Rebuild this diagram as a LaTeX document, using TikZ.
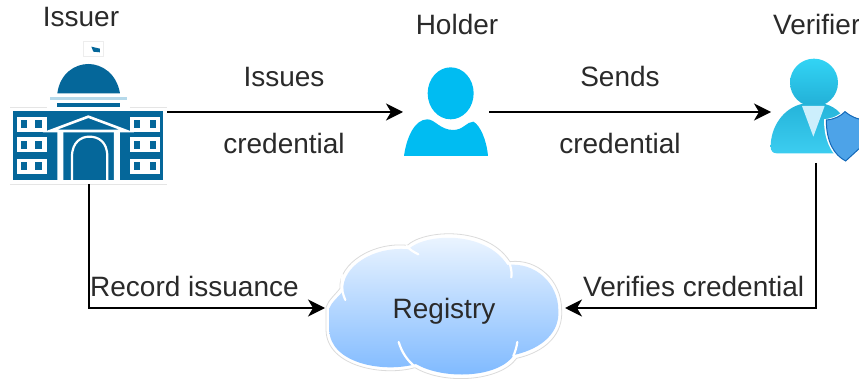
\documentclass[tikz,border=0pt]{standalone}
\usepackage{fontspec}
\setmainfont{Liberation Sans}
\usetikzlibrary{arrows.meta}
\definecolor{bldg}{HTML}{05679A}
\definecolor{bldgl}{HTML}{B5D9EA}
\definecolor{person}{HTML}{00BCF2}
\definecolor{txt}{HTML}{2A2A2A}
\definecolor{shieldf}{HTML}{4DA3E8}
\definecolor{shieldd}{HTML}{1368B8}
\definecolor{cloudt}{HTML}{F0F7FF}
\definecolor{cloudb}{HTML}{7CB8FF}
\definecolor{vlight}{HTML}{32D4F5}
\definecolor{vdark}{HTML}{22AFD6}
\definecolor{vbodyt}{HTML}{25B4DA}
\definecolor{vbodyb}{HTML}{3CCDF0}
\tikzset{
  lbl/.style={inner sep=0pt,anchor=base,text=txt,font=\fontsize{28}{30}\selectfont},
  lbll/.style={lbl,anchor=base west},
  iconbox/.style={inner sep=0pt,outer sep=0pt,minimum width=#1},
  conn/.style={draw=black,line width=1.6pt,-{Stealth[length=17pt,width=17pt,inset=5pt]}},
  winw/.style={fill=white,draw=none},
  winb/.style={fill=bldg,draw=none},
  whl/.style={draw=white,line width=2.2pt,line cap=round},
}
\begin{document}
\begin{tikzpicture}[x=1pt,y=-1pt]
\useasboundingbox (0,0) rectangle (859,379);
\clip (0,0) rectangle (859,379);
% ---- connector anchors as nodes
\node[iconbox=156pt,minimum height=144pt] (issuer) at (89,112) {};
\node[iconbox=86pt,minimum height=90pt] (holder) at (446,112) {};
\node[iconbox=90pt,minimum height=102pt] (verifier) at (816,112) {};
\node[iconbox=240pt,minimum height=140pt] (registry) at (445,308) {};
% ---- issuer icon
\begin{scope}[x=0.3333pt,y=-0.3333pt]
  \fill[white] (30,322) rectangle (500,552);
  \draw[black!10,line width=.5pt] (30,322) -- (140,322) (390,322) -- (500,322) (30,552) -- (500,552);
  \fill[white] (140,320) -- (140,280) .. controls (150,200) and (215,175) .. (265,175) .. controls (320,175) and (380,200) .. (390,280) -- (390,320) -- cycle;
  \fill[white] (250,125) rectangle (310,170);
  \draw[black!7,line width=.5pt] (250,125) rectangle (310,170);
  \fill[bldg] (274,140) -- (300,146) -- (300,157) -- (280,155) -- cycle;
  \fill[bldg] (172,280) .. controls (180,220) and (225,192) .. (265,192) .. controls (305,192) and (350,220) .. (360,280) -- cycle;
  \fill[bldgl] (150,292) rectangle (380,300);
  \fill[bldg] (170,308) rectangle (360,320);
  \fill[bldg] (40,332) rectangle (490,540);
  % left windows
  \foreach \y in {350,412,477}{
    \fill[winw] (52,\y) rectangle +(88,45);
    \fill[winb] (64,\y+10) rectangle +(18,24);
    \fill[winb] (106,\y+10) rectangle +(20,24);
    \fill[winw] (390,\y) rectangle +(90,45);
    \fill[winb] (403,\y+10) rectangle +(18,24);
    \fill[winb] (449,\y+10) rectangle +(18,24);
  }
  % portico
  \draw[white,line width=2.6pt,line join=miter] (150,393) -- (265,350) -- (380,393) -- cycle;
  \fill[white] (172,393) rectangle (190,540) (342,393) rectangle (360,540);
  \draw[white,line width=2.2pt] (216,540) -- (216,470) .. controls (216,425) and (245,410) .. (268,410) .. controls (295,410) and (322,425) .. (322,470) -- (322,540);
\end{scope}
% ---- holder icon
\begin{scope}[shift={(390,50)},x=0.3333pt,y=-0.3333pt]
  \fill[person] (182,130) ellipse [x radius=69,y radius=78];
  \fill[person] (42,318) .. controls (50,260) and (75,208) .. (112,208) .. controls (135,208) and (150,240) .. (190,240) .. controls (220,240) and (230,215) .. (250,215) .. controls (270,225) and (290,270) .. (294,318) -- cycle;
\end{scope}
% ---- verifier icon
\begin{scope}[shift={(750,0)},x=0.3333pt,y=-0.3333pt]
  \shade[top color=vlight,bottom color=vdark] (192,248) circle [radius=72];
  \shade[top color=vbodyt,bottom color=vbodyb] (62,440) .. controls (62,380) and (100,325) .. (155,312) -- (225,312) .. controls (260,322) and (285,345) .. (300,400) -- (300,460) -- (80,460) .. controls (68,460) and (62,452) .. (62,440) -- cycle;
  \fill[cyan!20] (156,318) -- (224,318) -- (190,410) -- cycle;
  \fill[white] (222,358) .. controls (250,355) and (270,345) .. (285,328) .. controls (300,345) and (320,355) .. (350,358) -- (350,440) -- (287,492) .. controls (250,470) and (222,430) .. (222,358) -- cycle;
  \fill[fill=shieldf,draw=shieldd,line width=1pt] (229,360) .. controls (255,358) and (272,348) .. (285,335) .. controls (300,348) and (320,358) .. (345,360) -- (345,430) -- (287,483) .. controls (252,465) and (229,425) .. (229,360) -- cycle;
\end{scope}
% ---- cloud
\begin{scope}[shift={(310,220)},x=0.3333pt,y=-0.3333pt]
  \def\cloudpath{(48,262) .. controls (55,240) and (75,225) .. (90,205) .. controls (85,130) and (190,65) .. (292,76) .. controls (340,30) and (530,15) .. (600,125) .. controls (680,115) and (755,180) .. (755,270) .. controls (760,340) and (710,395) .. (620,415) .. controls (570,485) and (400,495) .. (315,443) .. controls (220,470) and (50,440) .. (48,330) -- cycle}
  \draw[black!14,line width=.8pt,fill=white] \cloudpath;
  \begin{scope}
    \clip (58,265) .. controls (65,245) and (85,232) .. (100,212) .. controls (95,140) and (190,78) .. (295,88) .. controls (345,40) and (525,30) .. (592,135) .. controls (675,125) and (745,190) .. (745,270) .. controls (750,335) and (700,385) .. (612,405) .. controls (565,475) and (400,480) .. (318,432) .. controls (220,460) and (60,430) .. (58,330) -- cycle;
    \shade[top color=cloudt,bottom color=cloudb] (40,30) rectangle (770,480);
  \end{scope}
  \draw[whl] (106,240) .. controls (95,215) and (92,190) .. (98,165);
  \draw[whl] (325,103) .. controls (310,95) and (300,90) .. (290,78);
  \draw[whl] (604,172) .. controls (606,160) and (604,145) .. (598,128);
  \draw[whl] (622,366) .. controls (620,380) and (616,395) .. (610,408);
  \draw[whl] (266,366) .. controls (275,395) and (290,420) .. (315,440);
\end{scope}
% ---- connectors
\draw[conn] (issuer.east) -- (holder.west);
\draw[conn] (holder.east) -- (verifier.west);
\draw[conn] (issuer.south) |- (registry.west);
\draw[conn] (verifier.south) |- (registry.east);
% ---- labels
\node[lbl] (tIssuer) at (81,27) {Issuer};
\node[lbl] (tHolder) at (457,35) {Holder};
\node[lbll] (tVerifier) at (773,35) {Verifier};
\node[lbl] (tIssues) at (284,87) {Issues};
\node[lbl] (tCred1) at (284,154) {credential};
\node[lbl] (tSends) at (620,87) {Sends};
\node[lbl] (tCred2) at (620,154) {credential};
\node[lbll] (tRecord) at (90,296) {Record issuance};
\node[lbll] (tVerifies) at (583,296) {Verifies credential};
\node[lbl] (tRegistry) at (444,318) {Registry};
\end{tikzpicture}
\end{document}
